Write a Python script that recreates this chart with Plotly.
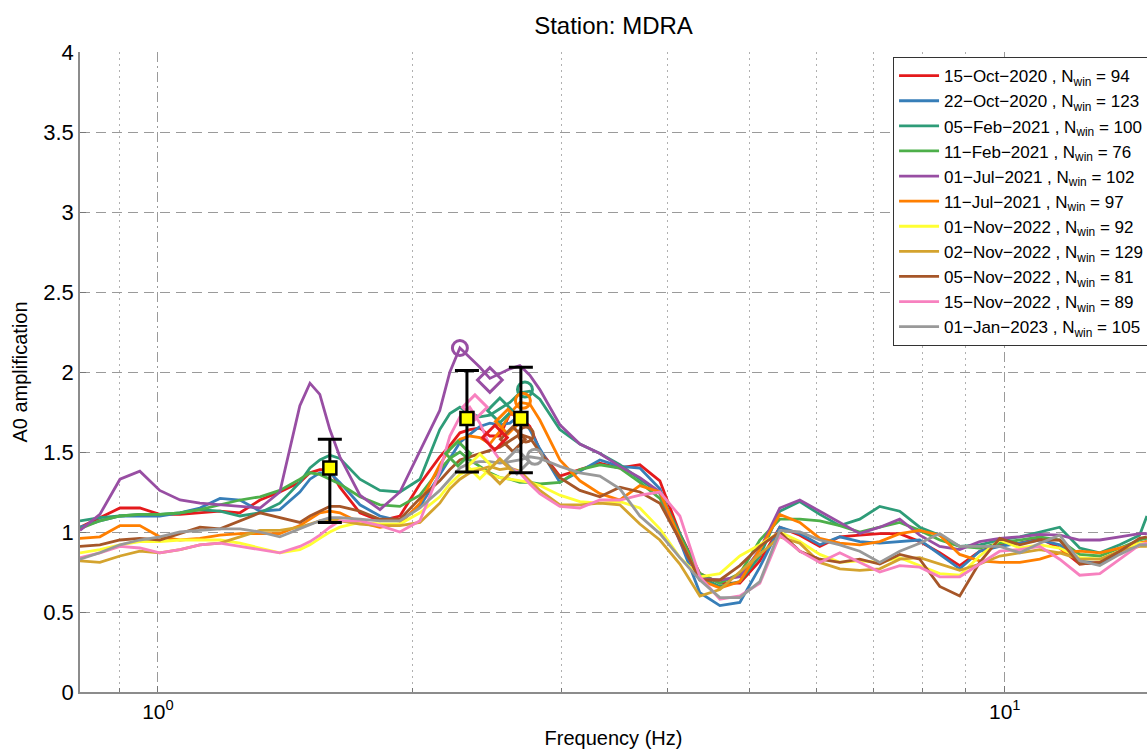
import plotly.graph_objects as go

# Frequency samples (Hz) shared by all HVSR curves
freq_hz = [0.809, 0.854, 0.902, 0.952, 1.005, 1.062, 1.121, 1.184, 1.250, 1.320,
           1.393, 1.471, 1.512, 1.553, 1.596, 1.640, 1.732, 1.829, 1.931, 2.039,
           2.152, 2.212, 2.273, 2.335, 2.400, 2.466, 2.534, 2.604, 2.676, 2.749,
           2.825, 2.983, 3.150, 3.326, 3.512, 3.708, 3.915, 4.134, 4.365, 4.609,
           4.866, 5.138, 5.425, 5.728, 6.048, 6.386, 6.742, 7.119, 7.516, 7.936,
           8.380, 8.848, 9.343, 9.865, 10.42, 11.00, 11.61, 12.26, 12.95, 13.67,
           14.43, 14.72]

dates = ["15−Oct−2020", "22−Oct−2020", "05−Feb−2021", "11−Feb−2021", "01−Jul−2021",
         "11−Jul−2021", "01−Nov−2022", "02−Nov−2022", "05−Nov−2022", "15−Nov−2022",
         "01−Jan−2023"]
n_win = [94, 123, 100, 76, 102, 97, 92, 129, 81, 89, 105]
colors = ["#e41a1c", "#377eb8", "#2e9c78", "#4daf4a", "#984ea3", "#ff7f00",
          "#ffff33", "#d4a32e", "#a65628", "#f781bf", "#999999"]

amp_15oct2020 = [1.03, 1.09, 1.15, 1.15, 1.11, 1.11, 1.12, 1.13, 1.12, 1.20,
                 1.25, 1.31, 1.37, 1.39, 1.39, 1.28, 1.12, 1.07, 1.10, 1.30,
                 1.47, 1.54, 1.62, 1.64, 1.65, 1.60, 1.60, 1.74, 1.72, 1.66,
                 1.51, 1.35, 1.39, 1.43, 1.40, 1.42, 1.32, 0.99, 0.74, 0.68,
                 0.68, 0.82, 1.03, 0.98, 0.91, 0.97, 0.98, 0.99, 0.99, 0.94,
                 0.87, 0.79, 0.88, 0.92, 0.93, 0.96, 0.90, 0.80, 0.81, 0.88,
                 0.93, 0.94]
amp_22oct2020 = [1.03, 1.07, 1.10, 1.10, 1.10, 1.12, 1.15, 1.21, 1.20, 1.13,
                 1.14, 1.25, 1.33, 1.37, 1.37, 1.31, 1.17, 1.10, 1.07, 1.16,
                 1.36, 1.46, 1.56, 1.61, 1.66, 1.68, 1.67, 1.68, 1.73, 1.64,
                 1.52, 1.31, 1.38, 1.45, 1.41, 1.40, 1.27, 0.95, 0.62, 0.54,
                 0.56, 0.78, 1.03, 0.99, 0.92, 0.97, 0.94, 0.93, 0.94, 0.95,
                 0.86, 0.77, 0.88, 0.91, 0.93, 0.95, 0.92, 0.82, 0.80, 0.87,
                 0.92, 0.93]
amp_05feb2021 = [1.07, 1.09, 1.10, 1.11, 1.11, 1.12, 1.14, 1.13, 1.10, 1.12,
                 1.18, 1.31, 1.40, 1.45, 1.48, 1.46, 1.33, 1.26, 1.25, 1.33,
                 1.64, 1.74, 1.78, 1.74, 1.72, 1.73, 1.77, 1.81, 1.87, 1.88,
                 1.83, 1.64, 1.55, 1.49, 1.42, 1.33, 1.24, 0.99, 0.72, 0.66,
                 0.69, 0.85, 1.13, 1.19, 1.11, 1.04, 1.08, 1.16, 1.13, 1.03,
                 0.98, 0.91, 0.92, 0.95, 0.97, 1.00, 1.03, 0.90, 0.87, 0.92,
                 0.98, 1.10]
amp_11feb2021 = [1.02, 1.07, 1.10, 1.11, 1.11, 1.12, 1.14, 1.17, 1.20, 1.22,
                 1.26, 1.33, 1.37, 1.36, 1.33, 1.30, 1.22, 1.17, 1.16, 1.23,
                 1.39, 1.46, 1.50, 1.45, 1.41, 1.37, 1.34, 1.33, 1.31, 1.31,
                 1.30, 1.31, 1.39, 1.42, 1.40, 1.31, 1.21, 0.97, 0.74, 0.68,
                 0.74, 0.95, 1.08, 1.08, 1.07, 1.04, 1.00, 1.03, 1.06, 1.01,
                 0.95, 0.91, 0.90, 0.93, 0.95, 0.97, 0.95, 0.86, 0.85, 0.90,
                 0.95, 0.96]
amp_01jul2021 = [1.01, 1.11, 1.33, 1.38, 1.26, 1.20, 1.18, 1.17, 1.16, 1.15,
                 1.25, 1.79, 1.93, 1.86, 1.64, 1.47, 1.23, 1.14, 1.25, 1.51,
                 1.76, 2.00, 2.15, 2.09, 2.03, 1.96, 1.99, 2.02, 2.04, 1.98,
                 1.89, 1.67, 1.55, 1.49, 1.41, 1.34, 1.25, 0.94, 0.71, 0.70,
                 0.72, 0.89, 1.15, 1.20, 1.13, 1.06, 0.99, 1.03, 1.08, 0.98,
                 0.91, 0.89, 0.94, 0.96, 0.97, 0.985, 0.98, 0.95, 0.95, 0.97,
                 0.99, 0.99]
amp_11jul2021 = [0.96, 0.97, 1.04, 1.04, 0.97, 0.95, 0.96, 0.98, 0.99, 0.99,
                 0.99, 1.04, 1.08, 1.12, 1.13, 1.12, 1.06, 1.03, 1.05, 1.18,
                 1.42, 1.52, 1.58, 1.60, 1.59, 1.55, 1.63, 1.74, 1.81, 1.80,
                 1.70, 1.45, 1.32, 1.24, 1.20, 1.29, 1.25, 0.96, 0.70, 0.65,
                 0.69, 0.89, 1.11, 1.06, 0.96, 0.93, 0.92, 0.94, 0.99, 1.01,
                 0.98, 0.86, 0.82, 0.81, 0.81, 0.83, 0.87, 0.88, 0.87, 0.90,
                 0.93, 0.94]
amp_01nov2022 = [0.87, 0.89, 0.92, 0.94, 0.94, 0.95, 0.95, 0.95, 0.93, 0.90,
                 0.87, 0.89, 0.92, 0.96, 1.00, 1.03, 1.06, 1.05, 1.05, 1.12,
                 1.22, 1.30, 1.36, 1.39, 1.40, 1.36, 1.34, 1.33, 1.32, 1.31,
                 1.29, 1.23, 1.19, 1.18, 1.19, 1.15, 1.02, 0.84, 0.72, 0.74,
                 0.85, 0.92, 1.00, 0.94, 0.86, 0.81, 0.82, 0.81, 0.84, 0.79,
                 0.74, 0.73, 0.85, 0.95, 0.90, 0.92, 0.90, 0.84, 0.83, 0.88,
                 0.93, 0.93]
amp_02nov2022 = [0.82, 0.81, 0.85, 0.88, 0.87, 0.89, 0.92, 0.93, 0.97, 1.01,
                 1.01, 1.03, 1.05, 1.07, 1.08, 1.07, 1.05, 1.04, 1.04, 1.06,
                 1.18, 1.27, 1.33, 1.37, 1.39, 1.41, 1.39, 1.40, 1.38, 1.32,
                 1.26, 1.17, 1.17, 1.18, 1.17, 1.05, 0.95, 0.80, 0.60, 0.64,
                 0.75, 0.86, 0.97, 0.93, 0.81, 0.77, 0.76, 0.77, 0.83, 0.84,
                 0.80, 0.76, 0.80, 0.85, 0.87, 0.89, 0.87, 0.83, 0.83, 0.88,
                 0.91, 0.91]
amp_05nov2022 = [0.91, 0.92, 0.95, 0.96, 0.95, 0.99, 1.03, 1.02, 1.07, 1.12,
                 1.09, 1.06, 1.10, 1.13, 1.16, 1.16, 1.13, 1.08, 1.08, 1.21,
                 1.32, 1.39, 1.45, 1.47, 1.49, 1.51, 1.53, 1.57, 1.61, 1.59,
                 1.50, 1.34, 1.26, 1.22, 1.28, 1.25, 1.18, 0.95, 0.70, 0.70,
                 0.79, 0.91, 1.00, 0.88, 0.83, 0.81, 0.83, 0.80, 0.86, 0.83,
                 0.66, 0.60, 0.81, 0.96, 0.92, 0.95, 0.95, 0.80, 0.81, 0.88,
                 0.96, 0.97]
amp_15nov2022 = [0.84, 0.87, 0.91, 0.90, 0.87, 0.89, 0.92, 0.93, 0.91, 0.89,
                 0.87, 0.91, 0.94, 0.98, 1.03, 1.07, 1.07, 1.04, 1.00, 1.07,
                 1.38, 1.60, 1.72, 1.78, 1.68, 1.54, 1.45, 1.40, 1.37, 1.30,
                 1.24, 1.16, 1.15, 1.20, 1.20, 1.23, 1.25, 1.10, 0.72, 0.58,
                 0.60, 0.68, 0.98, 0.88, 0.81, 0.87, 0.81, 0.75, 0.79, 0.78,
                 0.72, 0.72, 0.80, 0.88, 0.89, 0.91, 0.83, 0.73, 0.74, 0.83,
                 0.92, 0.93]
amp_01jan2023 = [0.83, 0.87, 0.92, 0.95, 0.97, 1.00, 1.01, 1.02, 1.02, 1.00,
                 0.97, 1.02, 1.05, 1.07, 1.09, 1.09, 1.08, 1.07, 1.07, 1.15,
                 1.26, 1.33, 1.40, 1.43, 1.44, 1.44, 1.43, 1.44, 1.45, 1.47,
                 1.46, 1.41, 1.37, 1.35, 1.27, 1.10, 0.99, 0.84, 0.70, 0.59,
                 0.59, 0.69, 1.01, 1.00, 0.95, 0.92, 0.88, 0.81, 0.88, 0.93,
                 0.99, 0.91, 0.91, 0.91, 0.87, 0.93, 0.98, 0.82, 0.79, 0.86,
                 0.92, 0.92]

amplitudes = [amp_15oct2020, amp_22oct2020, amp_05feb2021, amp_11feb2021,
              amp_01jul2021, amp_11jul2021, amp_01nov2022, amp_02nov2022,
              amp_05nov2022, amp_15nov2022, amp_01jan2023]

# Picked peaks: circles (primary) and diamonds (secondary), by series index
circle_idx = [4, 2, 5, 8, 10]
circle_freq = [2.273, 2.713, 2.698, 2.720, 2.787]
circle_amp = [2.15, 1.89, 1.82, 1.61, 1.47]

diamond_idx = [4, 2, 5, 8, 10, 9, 3, 6, 7, 0]
diamond_freq = [2.466, 2.534, 2.590, 2.625, 2.654, 2.368, 2.261, 2.400, 2.534, 2.500]
diamond_amp = [1.95, 1.76, 1.69, 1.58, 1.44, 1.78, 1.49, 1.41, 1.38, 1.59]

# Mean peak estimates with spread
peak_freq = [1.596, 2.317, 2.683]
peak_amp = [1.40, 1.71, 1.71]
peak_upper = [1.58, 2.01, 2.03]
peak_lower = [1.06, 1.375, 1.37]

y_ticks = [0, 0.5, 1, 1.5, 2, 2.5, 3, 3.5, 4]
y_tick_text = ["0", "0.5", "1", "1.5", "2", "2.5", "3", "3.5", "4"]
x_major = [1, 10]
x_major_text = ["10<sup>0</sup>", "10<sup>1</sup>"]
x_minor = [0.9, 2, 3, 4, 5, 6, 7, 8, 9]

FONT = "Liberation Sans, Arial, Helvetica, sans-serif"
GRID = "#9a9a9a"

fig = go.Figure()

for i, amp in enumerate(amplitudes):
    fig.add_trace(go.Scatter(
        x=freq_hz, y=amp, mode="lines",
        line=dict(color=colors[i], width=2.8),
        name=f"{dates[i]} , N<sub>win</sub> = {n_win[i]}",
    ))

fig.add_trace(go.Scatter(
    x=circle_freq, y=circle_amp, mode="markers", showlegend=False,
    marker=dict(symbol="circle-open", size=15,
                color=[colors[k] for k in circle_idx],
                line=dict(width=3, color=[colors[k] for k in circle_idx])),
))
fig.add_trace(go.Scatter(
    x=diamond_freq, y=diamond_amp, mode="markers", showlegend=False,
    marker=dict(symbol="diamond-open", size=19,
                color=[colors[k] for k in diamond_idx],
                line=dict(width=3, color=[colors[k] for k in diamond_idx])),
))

fig.add_trace(go.Scatter(
    x=peak_freq, y=peak_amp, mode="markers", showlegend=False,
    error_y=dict(type="data", symmetric=False,
                 array=[u - a for u, a in zip(peak_upper, peak_amp)],
                 arrayminus=[a - l for a, l in zip(peak_amp, peak_lower)],
                 color="black", thickness=3, width=12),
    marker=dict(symbol="square", size=13, color="#ffff00",
                line=dict(color="black", width=2.5)),
))

fig.update_layout(
    width=1147, height=751,
    margin=dict(l=80, r=0, t=52, b=59, autoexpand=False),
    paper_bgcolor="white", plot_bgcolor="white",
    font=dict(family=FONT, color="black", size=20),
    title=dict(text="Station: MDRA", x=0.5, xref="paper", y=0.966,
               yanchor="middle", font=dict(size=24, family=FONT)),
    legend=dict(x=0.762, y=0.992, xanchor="left", yanchor="top",
                bgcolor="white", bordercolor="#333333", borderwidth=1,
                font=dict(size=17, family=FONT), tracegroupgap=0,
                itemwidth=40),
)

fig.update_xaxes(
    type="log", range=[-0.092, 1.168],
    tickmode="array", tickvals=x_major, ticktext=x_major_text,
    ticks="inside", ticklen=6, tickcolor="#777777",
    showline=True, linecolor="#8c8c8c", linewidth=1.5,
    showgrid=True, gridcolor=GRID, gridwidth=1, griddash="10px,4px,2px,4px",
    minor=dict(tickmode="array", tickvals=x_minor, ticks="inside", ticklen=4,
               tickcolor="#777777", showgrid=True, gridcolor="#b0b0b0",
               gridwidth=1, griddash="2px,4px"),
    zeroline=False,
    title=dict(text="Frequency (Hz)", standoff=9, font=dict(size=20)),
    tickfont=dict(size=21),
)
fig.update_yaxes(
    range=[0, 4], tickmode="array", tickvals=y_ticks, ticktext=y_tick_text,
    ticks="inside", ticklen=6, tickcolor="#777777",
    showline=True, linecolor="#8c8c8c", linewidth=1.5,
    showgrid=True, gridcolor=GRID, gridwidth=1, griddash="10px,6px",
    zeroline=False,
    title=dict(text="A0 amplification", standoff=10, font=dict(size=20)),
    tickfont=dict(size=22),
)

fig.write_html("out.html")
